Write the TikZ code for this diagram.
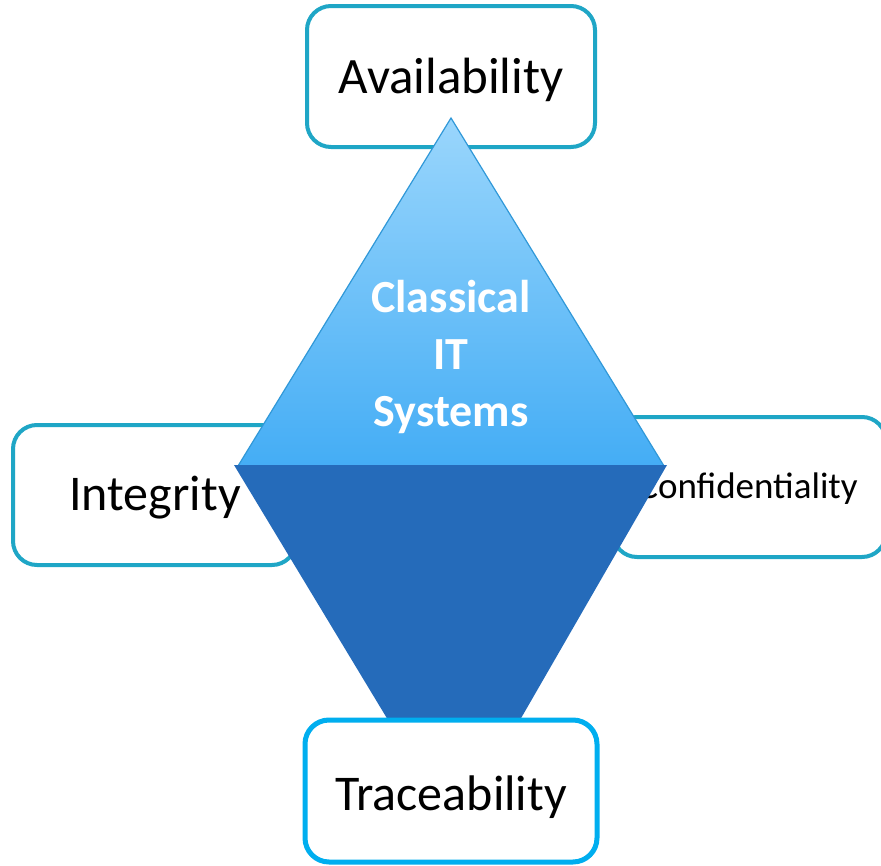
\documentclass[tikz,border=0pt]{standalone}
\usepackage{fontspec}
\setmainfont{Carlito}
\definecolor{tealb}{HTML}{1FA6C6}
\definecolor{brightb}{HTML}{00AEEF}
\definecolor{darkb}{HTML}{256BBA}
\definecolor{triTop}{HTML}{9AD6FC}
\definecolor{triBot}{HTML}{44ADF5}
\definecolor{triEdge}{HTML}{3098D8}
\tikzset{
  qbox/.style={draw=tealb, line width=4pt, rounded corners=24pt, fill=white},
  tbox/.style={draw=brightb, line width=5pt, rounded corners=24pt, fill=white},
  lbl/.style={anchor=base, inner sep=0pt, text=black},
  wlbl/.style={inner sep=0pt, text=white, font=\fontsize{46}{57}\selectfont\bfseries, align=center},
}
\begin{document}
\begin{tikzpicture}[x=1pt,y=-1pt]
\useasboundingbox (0,0) rectangle (881,865);
% boxes behind
\draw[qbox] (307,6) rectangle (595,147);
\node[lbl, font=\fontsize{51}{60}\selectfont] (avail) at (451,93) {Availability};
\draw[qbox] (13,425) rectangle (296,565);
\node[lbl, font=\fontsize{50}{60}\selectfont] (integ) at (155,510) {Integrity};
\draw[qbox] (613,417) rectangle (886,557);
\node[lbl, font=\fontsize{37}{44}\selectfont] (conf) at (748,498) {Confidentiality};
% triangle
\path[top color=triTop, bottom color=triBot, draw=triEdge, line width=1.2pt]
  (451,118) -- (664,466) -- (238,466) -- cycle;
\node[wlbl] (cls) at (451,357) {Classical\\IT\\Systems};
% trapezoid
\fill[darkb] (234,465) -- (667,465) -- (520,720) -- (388,720) -- cycle;
% bottom box
\draw[tbox] (305,720) rectangle (597,862);
\node[lbl, font=\fontsize{50}{60}\selectfont] (trace) at (451,810) {Traceability};
\end{tikzpicture}
\end{document}
